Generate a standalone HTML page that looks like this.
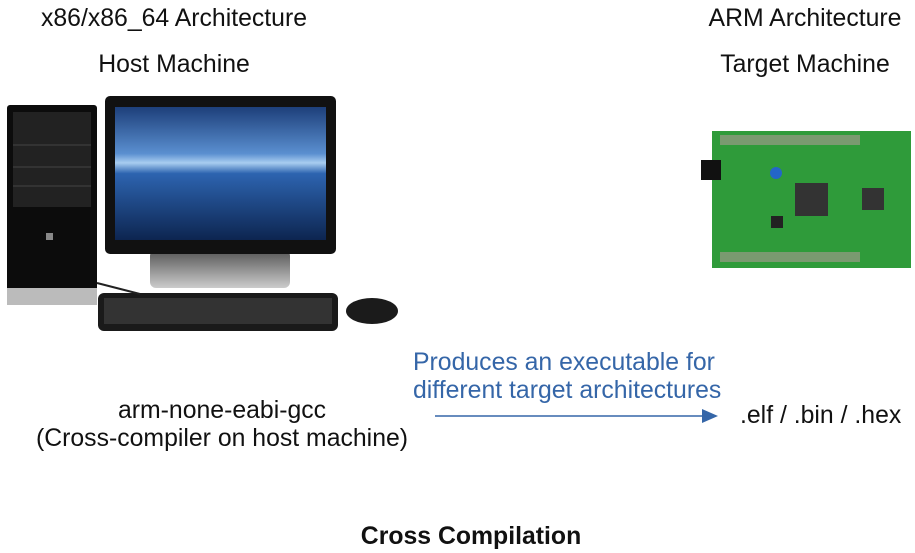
<!DOCTYPE html>
<html><head><style>
body{margin:0;width:915px;height:553px;background:#fff;position:relative;overflow:hidden;font-family:"Liberation Sans",sans-serif;}
.t{position:absolute;font-size:24.8px;color:#111;white-space:nowrap;line-height:1;}
.c{transform:translateX(-50%);}
.b{color:#3566a8;}
</style></head><body>
<div class="t c" style="left:174px;top:7px">x86/x86_64 Architecture</div>
<div class="t c" style="left:174px;top:53px">Host Machine</div>
<div class="t c" style="left:805px;top:7px">ARM Architecture</div>
<div class="t c" style="left:805px;top:53px">Target Machine</div>
<div class="t b" style="left:413px;top:351px">Produces an executable for</div>
<div class="t b" style="left:413px;top:379px">different target architectures</div>
<div class="t c" style="left:222px;top:399px">arm-none-eabi-gcc</div>
<div class="t c" style="left:222px;top:427px">(Cross-compiler on host machine)</div>
<div class="t" style="left:740px;top:404px">.elf / .bin / .hex</div>
<div class="t c" style="left:471px;top:525px;font-weight:bold">Cross Compilation</div>
<svg width="915" height="553" style="position:absolute;left:0;top:0">
<defs>
<linearGradient id="sc" x1="0" y1="0" x2="0" y2="1">
<stop offset="0" stop-color="#1d3f7a"/><stop offset="0.35" stop-color="#5a8fd0"/><stop offset="0.42" stop-color="#a8cdf0"/><stop offset="0.5" stop-color="#2d64b0"/><stop offset="1" stop-color="#0d2550"/></linearGradient>
<linearGradient id="st" x1="0" y1="0" x2="0" y2="1"><stop offset="0" stop-color="#555"/><stop offset="1" stop-color="#ccc"/></linearGradient>
</defs>
<line x1="435" y1="416" x2="704" y2="416" stroke="#3566a8" stroke-width="1.5"/>
<polygon points="718,416 702,409 702,423" fill="#3566a8"/>
<rect x="7" y="105" width="90" height="200" rx="3" fill="#0c0c0c"/>
<rect x="7" y="288" width="90" height="17" fill="#bbb"/>
<rect x="13" y="112" width="78" height="95" fill="#222"/>
<line x1="13" y1="145" x2="91" y2="145" stroke="#444"/>
<line x1="13" y1="167" x2="91" y2="167" stroke="#444"/>
<line x1="13" y1="186" x2="91" y2="186" stroke="#444"/>
<rect x="46" y="233" width="7" height="7" fill="#888"/>
<rect x="150" y="250" width="140" height="38" rx="6" fill="url(#st)"/>
<rect x="105" y="96" width="231" height="158" rx="5" fill="#111"/>
<rect x="115" y="107" width="211" height="133" fill="url(#sc)"/>
<rect x="98" y="293" width="240" height="38" rx="6" fill="#1a1a1a"/>
<rect x="104" y="298" width="228" height="26" fill="#333"/>
<line x1="97" y1="283" x2="140" y2="294" stroke="#222" stroke-width="2"/>
<ellipse cx="372" cy="311" rx="26" ry="13" fill="#1b1b1b"/>
<rect x="712" y="131" width="199" height="137" fill="#2f9b3a"/>
<rect x="720" y="135" width="140" height="10" fill="#7a9a70"/>
<rect x="720" y="252" width="140" height="10" fill="#7a9a70"/>
<rect x="701" y="160" width="20" height="20" fill="#111"/>
<rect x="795" y="183" width="33" height="33" fill="#333"/>
<rect x="862" y="188" width="22" height="22" fill="#333"/>
<circle cx="776" cy="173" r="6" fill="#2366c8"/>
<rect x="771" y="216" width="12" height="12" fill="#222"/>
</svg>
</body></html>
